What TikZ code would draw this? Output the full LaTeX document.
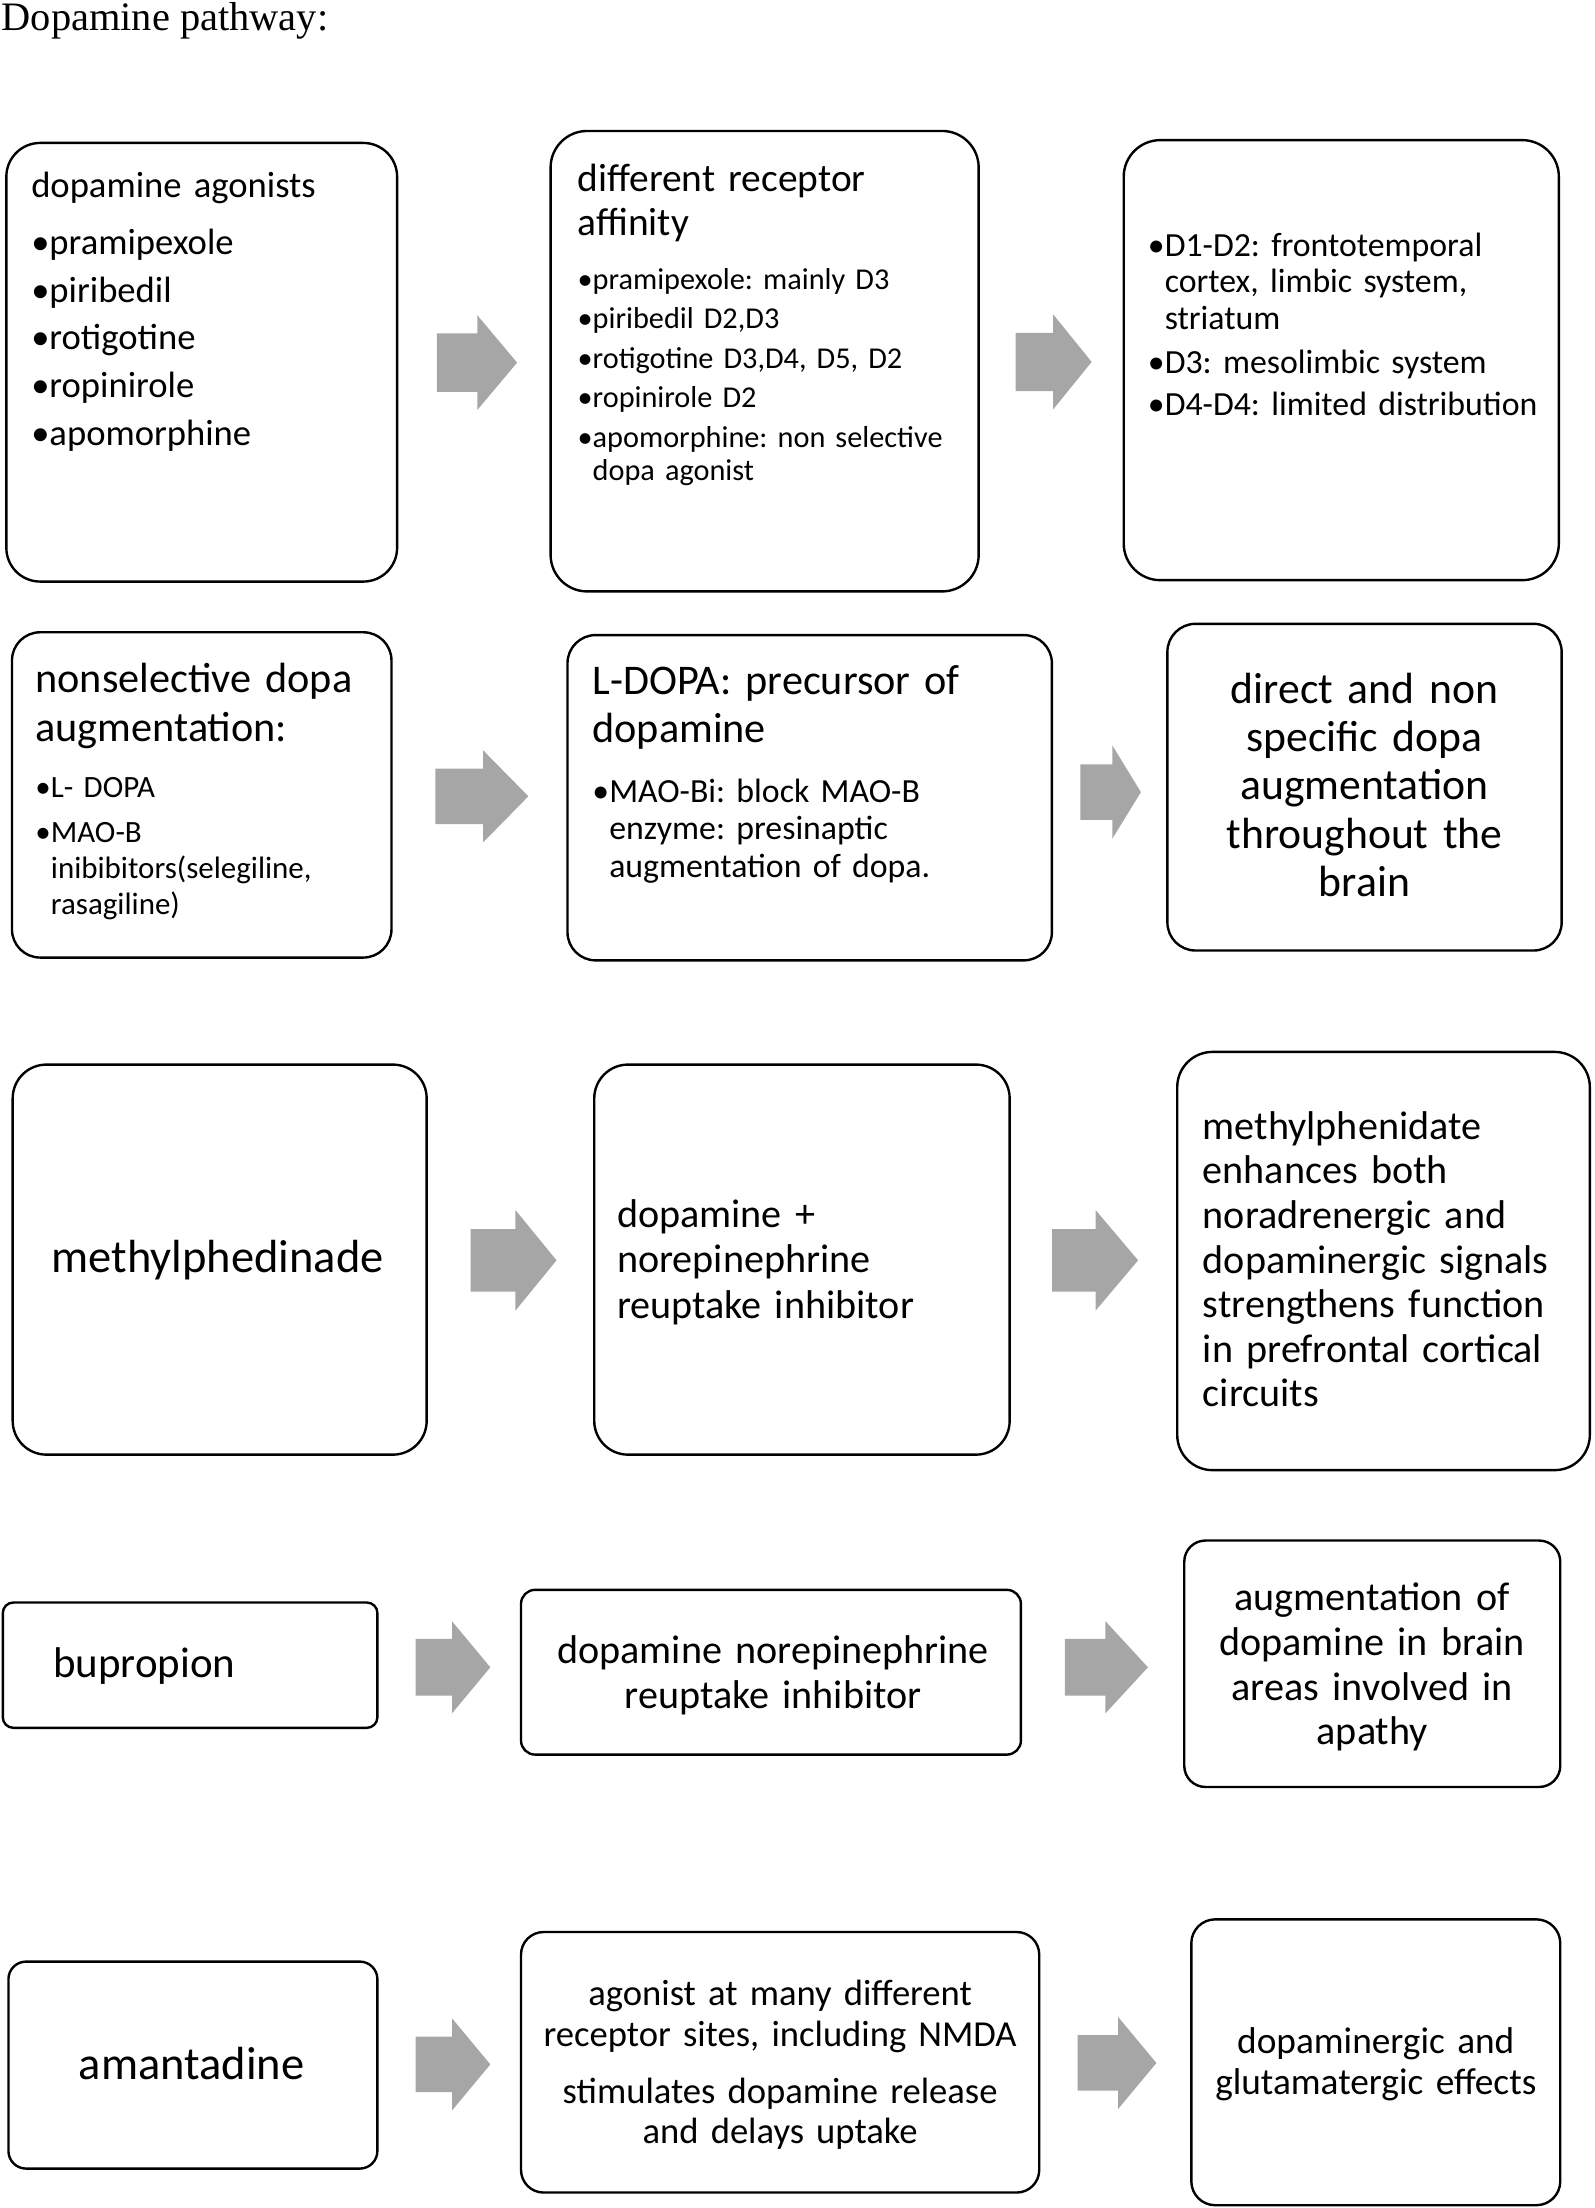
\documentclass[tikz,border=0pt]{standalone}
\usepackage{fontspec}
\setmainfont{Carlito}
\newfontfamily\titlefont{Liberation Serif}
\usepackage{tikz}
\usetikzlibrary{shapes.arrows}

\definecolor{arrowgray}{RGB}{166,166,166}
\newcommand{\setfs}[2]{\fontsize{#1pt}{#2pt}\selectfont\frenchspacing}

\begin{document}
\begin{tikzpicture}[x=1pt, y=-1pt]
	\tikzstyle{box} = [draw=black, line width=1.7pt, rectangle, inner sep=0pt]
	\tikzstyle{ltxt} = [inner sep=0pt, anchor=base west, text width=330pt, align=left]
	\tikzstyle{ctxt} = [inner sep=0pt, anchor=base, text width=360pt, align=center]
	\tikzstyle{bigarrow} = [single arrow, fill=arrowgray, draw=none, inner xsep=0pt, anchor=west, single arrow head indent=0pt]

	\useasboundingbox (0,0) rectangle (1132,1568);

	\node[anchor=base west, inner sep=0pt, font=\titlefont\setfs{28.7}{30}] (title) at (1, 22) {Dopamine pathway:};

	% row 1: dopamine agonists
	\node[box, minimum width=277.5pt, minimum height=311.5pt, rounded corners=24pt] (agonists) at (143.25, 257.25) {};
	\node[box, minimum width=304pt, minimum height=327pt, rounded corners=26pt] (affinity) at (543, 256.5) {};
	\node[box, minimum width=309pt, minimum height=312.5pt, rounded corners=26pt] (distrib) at (952.5, 255.75) {};

	\node[ltxt, font=\setfs{26}{34}] (agonists-t) at (22, 140.5) {dopamine agonists\\[6pt] •pramipexole\\ •piribedil\\ •rotigotine\\ •ropinirole\\ •apomorphine};
	\node[ltxt, font=\setfs{28}{31}] (affinity-h) at (410, 136) {different receptor\\ affinity};
	\node[ltxt, font=\setfs{21.5}{24}] (affinity-t) at (410, 205.5) {•pramipexole: mainly D3\\[4pt] •piribedil D2,D3\\[4pt] •rotigotine D3,D4, D5, D2\\[4pt] •ropinirole D2\\[4pt] •apomorphine: non selective\\ \phantom{•}dopa agonist};
	\node[ltxt, font=\setfs{24}{26}] (distrib-t) at (815, 182) {•D1-D2: frontotemporal\\ \phantom{•}cortex, limbic system,\\ \phantom{•}striatum\\[5pt] •D3: mesolimbic system\\[4pt] •D4-D4: limited distribution};

	\node[bigarrow, minimum height=57pt, inner ysep=20.5pt, single arrow head extend=13pt, single arrow tip angle=100] (ar1) at (310, 257.5) {};
	\node[bigarrow, minimum height=54pt, inner ysep=20.5pt, single arrow head extend=13pt, single arrow tip angle=102] (ar2) at (721, 257) {};

	% row 2: nonselective dopa augmentation
	\node[box, minimum width=269.5pt, minimum height=231pt, rounded corners=20pt] (nonsel) at (143.25, 564.5) {};
	\node[box, minimum width=344pt, minimum height=231pt, rounded corners=20pt] (ldopa) at (575, 566.5) {};
	\node[box, minimum width=280pt, minimum height=232pt, rounded corners=20pt] (direct) at (969, 559) {};

	\node[ltxt, font=\setfs{30}{35}] (nonsel-h) at (25, 491.5) {nonselective dopa\\ augmentation:};
	\node[ltxt, font=\setfs{22}{25.5}] (nonsel-t) at (25, 566.5) {•L- DOPA\\[6.5pt] •MAO-B\\ \phantom{•}inibibitors(selegiline,\\ \phantom{•}rasagiline)};
	\node[ltxt, font=\setfs{30}{34}] (ldopa-h) at (420.5, 493.5) {L-DOPA: precursor of\\ dopamine};
	\node[ltxt, font=\setfs{24}{26.5}] (ldopa-t) at (420.5, 570) {•MAO-Bi: block MAO-B\\ \phantom{•}enzyme: presinaptic\\ \phantom{•}augmentation of dopa.};
	\node[ctxt, font=\setfs{31}{34.25}] (direct-t) at (969, 499.5) {direct and non\\ specific dopa\\ augmentation\\ throughout the\\ brain};

	\node[bigarrow, minimum height=66pt, inner ysep=19.5pt, single arrow head extend=13pt, single arrow tip angle=91] (ar3) at (309, 565.5) {};
	\node[bigarrow, minimum height=43pt, inner ysep=19.5pt, single arrow head extend=13.5pt, single arrow tip angle=117] (ar4) at (767, 562.5) {};

	% row 3: methylphenidate
	\node[box, minimum width=294pt, minimum height=277pt, rounded corners=24pt] (mph) at (156, 894.5) {};
	\node[box, minimum width=295pt, minimum height=277pt, rounded corners=24pt] (ndri) at (569.5, 894.5) {};
	\node[box, minimum width=293pt, minimum height=297pt, rounded corners=25pt] (enhance) at (982.5, 895.5) {};

	\node[ltxt, font=\setfs{33}{36}] (mph-t) at (36.5, 904) {methylphedinade};
	\node[ltxt, font=\setfs{28.5}{32}] (ndri-t) at (438, 872) {dopamine +\\ norepinephrine\\ reuptake inhibitor};
	\node[ltxt, font=\setfs{28.5}{31.67}] (enhance-t) at (854, 809) {methylphenidate\\ enhances both\\ noradrenergic and\\ dopaminergic signals\\ strengthens function\\ in prefrontal cortical\\ circuits};

	\node[bigarrow, minimum height=61pt, inner ysep=22pt, single arrow head extend=13.5pt, single arrow tip angle=101.5] (ar5) at (334, 895) {};
	\node[bigarrow, minimum height=61pt, inner ysep=22pt, single arrow head extend=13.5pt, single arrow tip angle=99.6] (ar6) at (747, 895) {};

	% row 4: bupropion
	\node[box, minimum width=266pt, minimum height=89pt, rounded corners=7.5pt] (bupro) at (135, 1182.5) {};
	\node[box, minimum width=355pt, minimum height=117pt, rounded corners=10pt] (ndri2) at (547.5, 1187.5) {};
	\node[box, minimum width=267pt, minimum height=175pt, rounded corners=15pt] (apathy) at (974.5, 1181.5) {};

	\node[ltxt, font=\setfs{30.5}{34}] (bupro-t) at (37.5, 1191.5) {bupropion};
	\node[ctxt, font=\setfs{28.5}{32}] (ndri2-t) at (549, 1181) {dopamine norepinephrine\\ reuptake inhibitor};
	\node[ctxt, font=\setfs{28.5}{31.67}] (apathy-t) at (974.5, 1144) {augmentation of\\ dopamine in brain\\ areas involved in\\ apathy};

	\node[bigarrow, minimum height=53pt, inner ysep=20pt, single arrow head extend=12.5pt, single arrow tip angle=100.5] (ar7) at (295, 1184) {};
	\node[bigarrow, minimum height=59pt, inner ysep=20pt, single arrow head extend=12.5pt, single arrow tip angle=94.6] (ar8) at (756, 1184) {};

	% row 5: amantadine
	\node[box, minimum width=262pt, minimum height=147pt, rounded corners=12.5pt] (amant) at (137, 1466.5) {};
	\node[box, minimum width=368pt, minimum height=185pt, rounded corners=16pt] (nmda) at (554, 1464.5) {};
	\node[box, minimum width=262pt, minimum height=203pt, rounded corners=17pt] (effects) at (977, 1464.5) {};

	\node[ctxt, font=\setfs{33}{36}] (amant-t) at (136, 1477) {amantadine};
	\node[ctxt, font=\setfs{26}{29}] (nmda-t) at (554, 1424.5) {agonist at many different\\ receptor sites, including NMDA\\[11pt] stimulates dopamine release\\ and delays uptake};
	\node[ctxt, font=\setfs{26.5}{29}] (effects-t) at (977, 1458.5) {dopaminergic and\\ glutamatergic effects};

	\node[bigarrow, minimum height=53pt, inner ysep=19.5pt, single arrow head extend=13pt, single arrow tip angle=100.5] (ar9) at (295, 1466) {};
	\node[bigarrow, minimum height=56pt, inner ysep=19.5pt, single arrow head extend=13pt, single arrow tip angle=100.5] (ar10) at (765, 1465) {};
\end{tikzpicture}
\end{document}
